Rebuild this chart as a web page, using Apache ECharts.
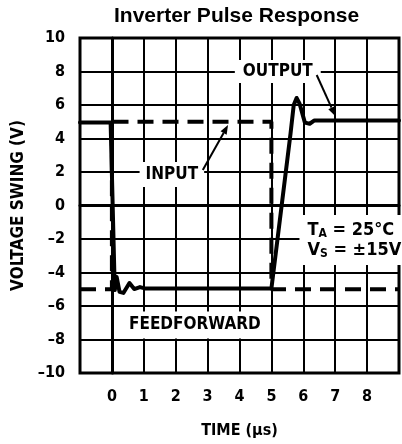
<!DOCTYPE html>
<html>
<head>
<meta charset="utf-8">
<script src="https://cdn.jsdelivr.net/npm/echarts@6/dist/echarts.min.js"></script>
<style>
html, body { margin: 0; padding: 0; background: #fff; }
#chart { width: 402px; height: 444px; }
</style>
</head>
<body>
<div id="chart"></div>
<script>
// input pulse (dashed) and inverter output (solid), time in us, volts
var inputTime = [-1, 0, 0, 5, 5, 9];
var inputVolts = [-5, -5, 5, 5, -5, -5];
var outputTime = [-1, -0.04, 0.09, 0.15, 0.24, 0.36, 0.55, 0.7, 0.88, 1.03, 5.0, 5.6, 5.7, 5.79, 5.88, 6.05, 6.2, 6.35, 9];
var outputVolts = [4.95, 4.95, -5.05, -4.27, -5.16, -5.22, -4.63, -4.99, -4.87, -4.95, -4.95, 4.3, 6.0, 6.42, 6.1, 4.95, 4.88, 5.08, 5.08];

var narrow = "'Liberation Sans Narrow', 'DejaVu Sans Condensed', sans-serif";

function pairs(xs, ys) {
    return xs.map(function (x, i) { return [x, ys[i]]; });
}

var chart = echarts.init(document.getElementById('chart'));

var option = {
    animation: false,
    title: {
        text: 'Inverter Pulse Response',
        left: 114, top: 6, padding: 0,
        textStyle: { fontFamily: "'Liberation Sans', Arial, sans-serif", fontWeight: 'bold', fontSize: 21, color: '#000' }
    },
    grid: { left: 80, top: 38, width: 330, height: 335, show: true, borderColor: '#000', borderWidth: 3 },
    xAxis: {
        type: 'value', min: -1, max: 9, interval: 1,
        name: 'TIME (μs)', nameLocation: 'middle', nameGap: 50,
        nameTextStyle: { fontFamily: narrow, fontWeight: 'bold', fontSize: 16, color: '#000' },
        axisLine: { lineStyle: { color: '#000', width: 3 } },
        axisTick: { show: false },
        axisLabel: {
            margin: 16, fontFamily: narrow, fontWeight: 'bold', fontSize: 16, color: '#000',
            formatter: function (v) { return (v < 0 || v > 8) ? '' : String(v); }
        },
        splitLine: { lineStyle: { color: '#000', width: 2 } }
    },
    yAxis: {
        type: 'value', min: -10, max: 10, interval: 2,
        name: 'VOLTAGE SWING (V)', nameLocation: 'middle', nameGap: 42,
        nameTextStyle: { fontFamily: narrow, fontWeight: 'bold', fontSize: 17, color: '#000' },
        axisLine: { show: true, lineStyle: { color: '#000', width: 3 } },
        axisTick: { show: false },
        axisLabel: {
            margin: 15, fontFamily: narrow, fontWeight: 'bold', fontSize: 16, color: '#000',
            formatter: function (v) { return v < 0 ? '\u2013' + (-v) : String(v); }
        },
        splitLine: { lineStyle: { color: '#000', width: 2 } }
    },
    series: [
        {
            name: 'INPUT', type: 'line', data: pairs(inputTime, inputVolts),
            symbol: 'none', z: 3,
            lineStyle: { color: '#000', width: 4, type: [16, 9] }
        },
        {
            name: 'OUTPUT', type: 'line', data: pairs(outputTime, outputVolts),
            symbol: 'none', z: 4,
            lineStyle: { color: '#000', width: 4, join: 'round', cap: 'round' }
        }
    ]
};
chart.setOption(option);

// labels and pointer arrows, placed in data coordinates
function px(p) { return chart.convertToPixel({ gridIndex: 0 }, p); }

function label(text, at, align, size, pad, rich) {
    var p = px(at);
    var st = {
        text: text, x: p[0], y: p[1], align: align, verticalAlign: 'middle',
        font: 'bold ' + size + 'px ' + narrow, fill: '#000',
        backgroundColor: '#fff', padding: pad
    };
    if (rich) st.rich = rich;
    return { type: 'text', z: 100, style: st };
}

function arrow(from, to) {
    var a = px(from), b = px(to);
    var dx = b[0] - a[0], dy = b[1] - a[1];
    var len = Math.sqrt(dx * dx + dy * dy);
    var ux = dx / len, uy = dy / len;
    var hl = 9, hw = 3.5;
    var bx = b[0] - ux * hl, by = b[1] - uy * hl;
    return [
        { type: 'line', z: 101, shape: { x1: a[0], y1: a[1], x2: bx, y2: by }, style: { stroke: '#000', lineWidth: 2 } },
        { type: 'polygon', z: 101, shape: { points: [[b[0], b[1]], [bx - uy * hw, by + ux * hw], [bx + uy * hw, by - ux * hw]] }, style: { fill: '#000' } }
    ];
}

var subStyle = { s: { fontFamily: narrow, fontWeight: 'bold', fontSize: 12, verticalAlign: 'bottom', padding: [8, 0, 0, 0] } };

var graphics = [
    label('OUTPUT', [5.2, 8], 'center', 17, [3, 8]),
    label('INPUT', [1.88, 1.85], 'center', 17, [4, 6]),
    label('T{s|A} = 25°C\nV{s|S} = ±15V', [5.88, -2.06], 'left', 18, [5, 6, 5, 8], subStyle),
    label('FEEDFORWARD', [2.6, -7.13], 'center', 17, [5, 6])
].concat(arrow([6.42, 7.79], [7.0, 5.35]), arrow([2.85, 2.12], [3.64, 4.8]));

chart.setOption({ graphic: graphics });
</script>
</body>
</html>
